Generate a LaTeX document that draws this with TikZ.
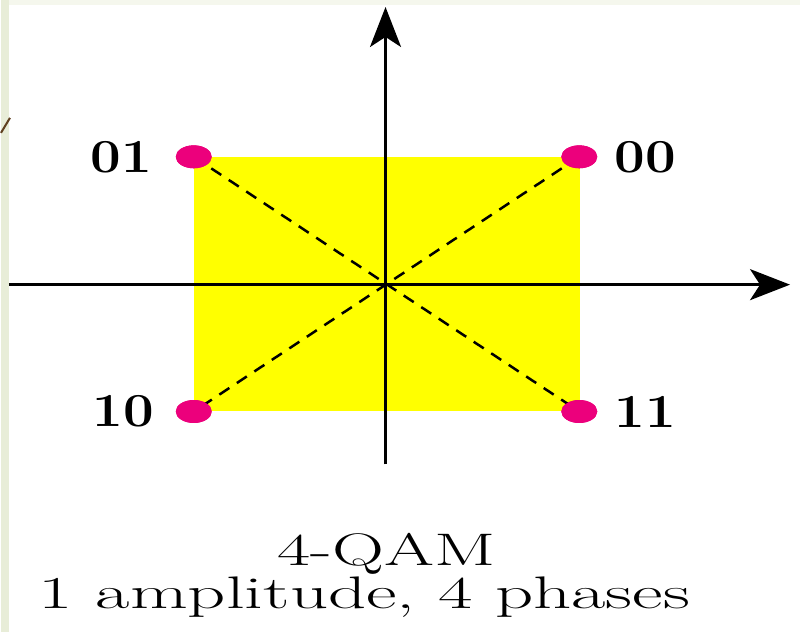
\documentclass[tikz,border=0pt]{standalone}
\usepackage{tikz}
\usetikzlibrary{arrows.meta, positioning, shapes.geometric}
\definecolor{slidegreen}{RGB}{232,237,216}
\definecolor{qampink}{RGB}{236,0,124}
\definecolor{qamyellow}{RGB}{255,255,0}

\begin{document}
\begin{tikzpicture}[
    x=0.02cm, y=-0.02cm,
    point/.style={ellipse, fill=qampink, minimum width=0.72cm, minimum height=0.46cm, inner sep=0pt},
    bits/.style={font=\fontsize{27}{30}\selectfont\bfseries, inner sep=0pt},
    axis/.style={-{Stealth[length=0.8cm, width=0.62cm, inset=0.2cm]}, line width=0.06cm},
    diag/.style={line width=0.05cm, dash pattern=on 0.24cm off 0.18cm},
    caption/.style={font=\fontsize{26}{30}\selectfont, inner sep=0pt},
  ]
    % slide background
    \fill[white] (0,0) rectangle (800,633);
    \fill[slidegreen] (0,0) rectangle (8,633);
    \fill[slidegreen!45] (8,0) rectangle (800,5);
    \draw[brown!50!black, line width=0.04cm] (0,133) -- (9,118);

    % constellation area
    \fill[qamyellow] (193,157) rectangle (580,412);

    % origin and axis ends
    \coordinate (O) at (385,285);
    \coordinate (xl) at (8,285);
    \coordinate (xr) at (790,285);
    \coordinate (yb) at (385,465);
    \coordinate (yt) at (385,7);

    % points
    \node[point] (p01) at (193,157) {};
    \node[point] (p00) at (579,157) {};
    \node[point] (p10) at (193,412) {};
    \node[point] (p11) at (579,412) {};

    % dashed diagonals
    \draw[diag] (p01.center) -- (p11.center);
    \draw[diag] (p00.center) -- (p10.center);
    \fill[qampink] (p01) ellipse (0.36cm and 0.23cm);
    \fill[qampink] (p00) ellipse (0.36cm and 0.23cm);
    \fill[qampink] (p10) ellipse (0.36cm and 0.23cm);
    \fill[qampink] (p11) ellipse (0.36cm and 0.23cm);

    % axes
    \draw[axis] (xl) -- (xr);
    \draw[axis] (yb) -- (yt);

    % labels
    \node[bits, left=0.46cm of p01] (l01) {\scalebox{1.15}[1]{01}};
    \node[bits, right=0.34cm of p00] (l00) {\scalebox{1.15}[1]{00}};
    \node[bits, left=0.42cm of p10] (l10) {\scalebox{1.15}[1]{10}};
    \node[bits, right=0.34cm of p11] (l11) {\scalebox{1.15}[1]{11}};

    \node[caption, anchor=base] (title) at (386,566) {\scalebox{1.58}[1]{4-QAM}};
    \node[caption, anchor=base] (sub) at (364,609) {\scalebox{1.64}[1]{1 amplitude, 4 phases}};
\end{tikzpicture}
\end{document}
